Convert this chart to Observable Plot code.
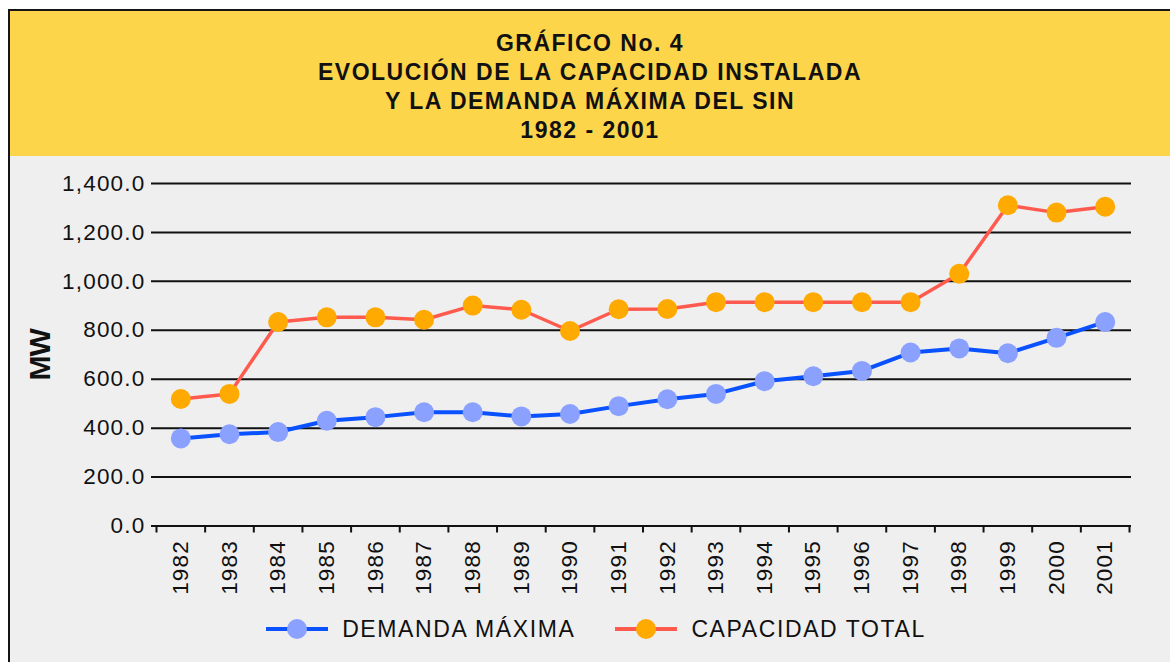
<!DOCTYPE html>
<html>
<head>
<meta charset="utf-8">
<script src="https://cdn.jsdelivr.net/npm/d3@7"></script>
<script src="https://cdn.jsdelivr.net/npm/@observablehq/plot@0.6"></script>
<style>
  html, body { margin: 0; padding: 0; background: #ffffff; width: 1170px; height: 662px; overflow: hidden; }
  #frame { position: absolute; left: 8px; top: 9px; width: 1180px; height: 680px;
           border-left: 2px solid #151515; border-top: 2px solid #151515; background: #efefef; overflow: hidden; }
  #header { width: 1160px; height: 145px; background: #FDD54B; box-sizing: border-box; padding-top: 18px;
            text-align: center; font-family: "Liberation Sans", Arial, sans-serif; font-weight: bold;
            font-size: 23px; line-height: 29px; letter-spacing: 1.5px; color: #111; }
  #chart { width: 1160px; height: 450px; }
  #chart svg text { letter-spacing: 1.2px; }
  #chart svg g[aria-label="text"] text { letter-spacing: -1px; }
  #legend { width: 1160px; height: 46px; display: flex; align-items: center; justify-content: center;
            font-family: "Liberation Sans", Arial, sans-serif; font-size: 23px; letter-spacing: 1.6px; color: #111;
            padding-left: 12px; box-sizing: border-box; }
  .item { display: flex; align-items: center; }
  .item svg { margin-right: 14px; }
  .gap { width: 40px; }
</style>
</head>
<body>
<div id="frame">
  <div id="header">
    <div>GRÁFICO No. 4</div>
    <div>EVOLUCIÓN DE LA CAPACIDAD INSTALADA</div>
    <div>Y LA DEMANDA MÁXIMA DEL SIN</div>
    <div>1982 - 2001</div>
  </div>
  <div id="chart"></div>
  <div id="legend"></div>
</div>
<script>
const years = [1982, 1983, 1984, 1985, 1986, 1987, 1988, 1989, 1990, 1991,
               1992, 1993, 1994, 1995, 1996, 1997, 1998, 1999, 2000, 2001];
const demanda = [358, 375, 384, 430, 445, 465, 465, 448, 458, 490,
                 518, 540, 592, 612, 634, 709, 726, 706, 769, 834];
const capacidad = [519, 540, 834, 853, 853, 843, 901, 884, 797, 886,
                   887, 915, 915, 915, 915, 915, 1031, 1311, 1281, 1305];
const yTicks = [0, 200, 400, 600, 800, 1000, 1200, 1400];
const seriesNames = ["DEMANDA MÁXIMA", "CAPACIDAD TOTAL"];
const yLabel = "MW";

const colors = {
  demLine: "#0A52FF", demDot: "#8BA1FF",
  capLine: "#FF5A4E", capDot: "#FFAA00"
};

const demData = years.map((y, i) => ({year: y, value: demanda[i]}));
const capData = years.map((y, i) => ({year: y, value: capacidad[i]}));
const boundaries = years.map(y => y - 0.5).concat([years[years.length - 1] + 0.5]);

const chart = Plot.plot({
  width: 1160,
  height: 450,
  marginLeft: 146,
  marginRight: 41,
  marginTop: 27,
  marginBottom: 80.5,
  style: {fontFamily: "'Liberation Sans', Arial, sans-serif", fontSize: "22px", background: "transparent", color: "#111", overflow: "visible"},
  x: {domain: [boundaries[0], boundaries[boundaries.length - 1]], axis: null},
  y: {domain: [0, 1400], axis: null},
  marks: [
    Plot.ruleY(yTicks, {stroke: "#111", strokeWidth: 2, insetLeft: -5, insetRight: -2}),
    Plot.axisY(yTicks, {tickSize: 0, tickPadding: 11, tickFormat: d3.format(",.1f"), label: null, fontSize: 22.5}),
    Plot.axisX(boundaries, {tickSize: 7, strokeWidth: 2, stroke: "#111", tickFormat: () => "", label: null}),
    Plot.axisX(years, {tickSize: 0, tickPadding: 14, tickRotate: -90, tickFormat: d => String(d), label: null, fontSize: 22.5}),
    Plot.text([yLabel], {frameAnchor: "left", textAnchor: "middle", rotate: -90, dx: -116, fontSize: 30, fontWeight: "bold", fill: "#111"}),
    Plot.line(capData, {x: "year", y: "value", stroke: colors.capLine, strokeWidth: 3.5}),
    Plot.line(demData, {x: "year", y: "value", stroke: colors.demLine, strokeWidth: 4}),
    Plot.dot(capData, {x: "year", y: "value", r: 10, fill: colors.capDot}),
    Plot.dot(demData, {x: "year", y: "value", r: 10, fill: colors.demDot})
  ]
});
document.getElementById("chart").appendChild(chart);

function swatch(line, dot) {
  return `<svg width="62" height="24" viewBox="0 0 62 24"><line x1="0" y1="12" x2="62" y2="12" stroke="${line}" stroke-width="4"/><circle cx="31" cy="12" r="10" fill="${dot}"/></svg>`;
}
document.getElementById("legend").innerHTML =
  `<div class="item">${swatch(colors.demLine, colors.demDot)}<span>${seriesNames[0]}</span></div>` +
  `<div class="gap"></div>` +
  `<div class="item">${swatch(colors.capLine, colors.capDot)}<span>${seriesNames[1]}</span></div>`;
</script>
</body>
</html>
